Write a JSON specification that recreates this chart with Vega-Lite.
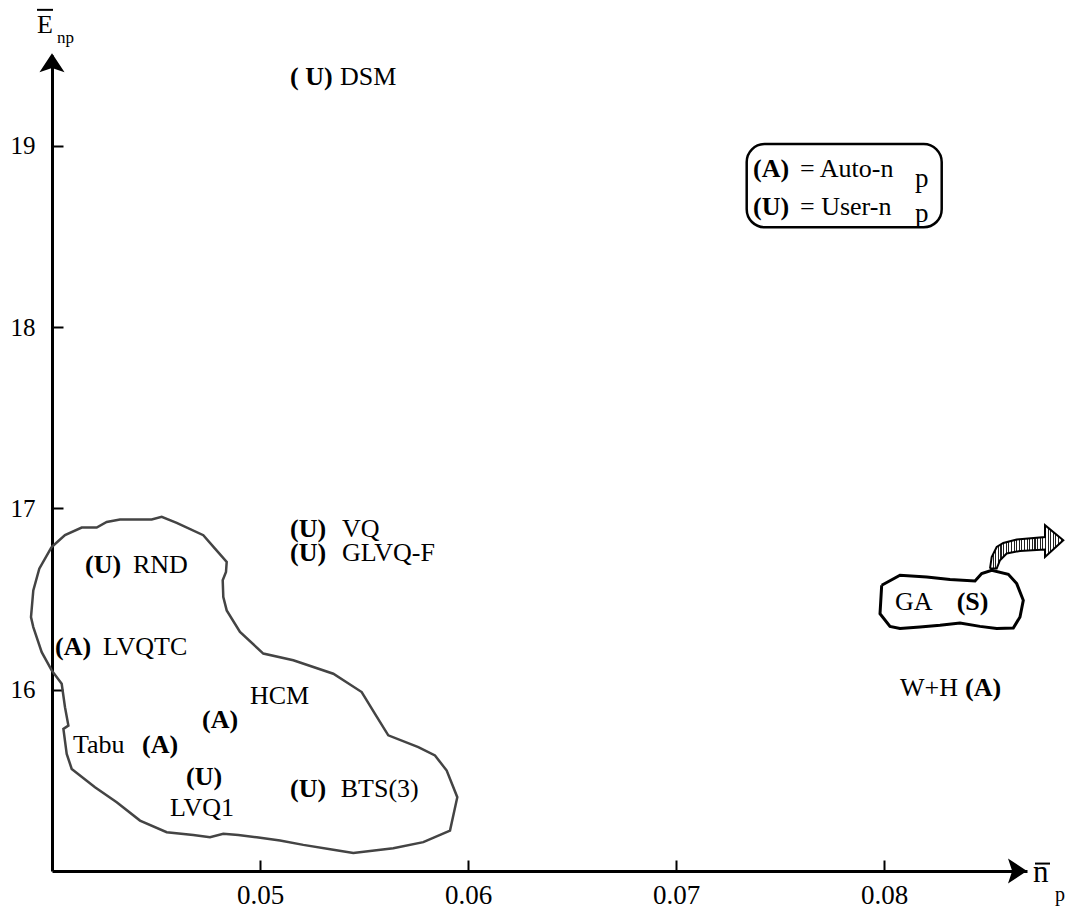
{
  "$schema": "https://vega.github.io/schema/vega-lite/v6.json",
  "autosize": "none",
  "width": 975,
  "height": 816,
  "padding": {"left": 52, "top": 55, "right": 38, "bottom": 38},
  "background": "white",
  "config": {
    "view": {"stroke": null},
    "font": "Liberation Serif",
    "text": {"font": "Liberation Serif", "color": "black"}
  },
  "datasets": {
    "blob": [
      {"i":0,"x":0.039986,"y":16.787},{"i":1,"x":0.040625,"y":16.852},{"i":2,"x":0.041428,"y":16.894},{"i":3,"x":0.042149,"y":16.894},{"i":4,"x":0.042630,"y":16.925},{"i":5,"x":0.043269,"y":16.938},{"i":6,"x":0.044793,"y":16.938},{"i":7,"x":0.045274,"y":16.953},{"i":8,"x":0.045995,"y":16.920},{"i":9,"x":0.047274,"y":16.852},{"i":10,"x":0.047837,"y":16.778},{"i":11,"x":0.048399,"y":16.704},{"i":12,"x":0.048365,"y":16.649},{"i":13,"x":0.048207,"y":16.603},{"i":14,"x":0.048236,"y":16.511},{"i":15,"x":0.048399,"y":16.437},{"i":16,"x":0.049038,"y":16.318},{"i":17,"x":0.050159,"y":16.199},{"i":18,"x":0.051601,"y":16.162},{"i":19,"x":0.053524,"y":16.088},{"i":20,"x":0.054889,"y":15.987},{"i":21,"x":0.055529,"y":15.867},{"i":22,"x":0.056168,"y":15.748},{"i":23,"x":0.057611,"y":15.683},{"i":24,"x":0.058413,"y":15.637},{"i":25,"x":0.058976,"y":15.554},{"i":26,"x":0.059486,"y":15.407},{"i":27,"x":0.059135,"y":15.223},{"i":28,"x":0.057851,"y":15.159},{"i":29,"x":0.056409,"y":15.126},{"i":30,"x":0.054486,"y":15.100},{"i":31,"x":0.053524,"y":15.117},{"i":32,"x":0.052082,"y":15.144},{"i":33,"x":0.050962,"y":15.168},{"i":34,"x":0.049841,"y":15.186},{"i":35,"x":0.048957,"y":15.199},{"i":36,"x":0.048236,"y":15.205},{"i":37,"x":0.047596,"y":15.186},{"i":38,"x":0.046793,"y":15.199},{"i":39,"x":0.045514,"y":15.214},{"i":40,"x":0.044231,"y":15.278},{"i":41,"x":0.043111,"y":15.379},{"i":42,"x":0.042067,"y":15.462},{"i":43,"x":0.040947,"y":15.563},{"i":44,"x":0.040707,"y":15.646},{"i":45,"x":0.040548,"y":15.784},{"i":46,"x":0.040788,"y":15.802},{"i":47,"x":0.040625,"y":15.903},{"i":48,"x":0.040466,"y":16.032},{"i":49,"x":0.039986,"y":16.106},{"i":50,"x":0.039505,"y":16.207},{"i":51,"x":0.039101,"y":16.345},{"i":52,"x":0.038990,"y":16.400},{"i":53,"x":0.039101,"y":16.547},{"i":54,"x":0.039389,"y":16.667},{"i":55,"x":0.039986,"y":16.787}
    ],
    "ga": [
      {"i":0,"x":0.079889,"y":16.576},{"i":1,"x":0.080769,"y":16.631},{"i":2,"x":0.082053,"y":16.621},{"i":3,"x":0.083173,"y":16.607},{"i":4,"x":0.084375,"y":16.599},{"i":5,"x":0.084697,"y":16.640},{"i":6,"x":0.085178,"y":16.658},{"i":7,"x":0.085976,"y":16.636},{"i":8,"x":0.086380,"y":16.585},{"i":9,"x":0.086697,"y":16.493},{"i":10,"x":0.086538,"y":16.401},{"i":11,"x":0.086216,"y":16.340},{"i":12,"x":0.085418,"y":16.337},{"i":13,"x":0.084615,"y":16.349},{"i":14,"x":0.083654,"y":16.368},{"i":15,"x":0.082692,"y":16.355},{"i":16,"x":0.081731,"y":16.345},{"i":17,"x":0.080769,"y":16.337},{"i":18,"x":0.080288,"y":16.349},{"i":19,"x":0.079808,"y":16.419},{"i":20,"x":0.079889,"y":16.576}
    ]
  },
  "layer": [
    {
      "data": {"name": "blob"},
      "mark": {"type": "line", "stroke": "#444444", "strokeWidth": 2.5, "clip": false},
      "encoding": {
        "x": {"field": "x", "type": "quantitative", "scale": {"domain": [0.04, 0.086875], "nice": false, "zero": false},
              "axis": {"values": [0.05, 0.06, 0.07, 0.08], "format": ".2f", "title": null, "grid": false,
                       "domainColor": "black", "domainWidth": 3, "tickColor": "black", "tickWidth": 2, "tickSize": -11,
                       "labelFont": "Liberation Serif", "labelFontSize": 27, "labelColor": "black", "labelPadding": 22, "labelBaseline": "top"}},
        "y": {"field": "y", "type": "quantitative", "scale": {"domain": [15, 19.5], "nice": false, "zero": false},
              "axis": {"values": [16, 17, 18, 19], "format": "d", "title": null, "grid": false,
                       "domainColor": "black", "domainWidth": 3, "tickColor": "black", "tickWidth": 2, "tickSize": -11,
                       "labelFont": "Liberation Serif", "labelFontSize": 25, "labelColor": "black", "labelPadding": 28}},
        "order": {"field": "i", "type": "quantitative"}
      }
    },
    {
      "data": {"name": "ga"},
      "mark": {"type": "line", "stroke": "black", "strokeWidth": 3, "clip": false},
      "encoding": {
        "x": {"field": "x", "type": "quantitative"}, "y": {"field": "y", "type": "quantitative"},
        "order": {"field": "i", "type": "quantitative"}
      }
    },
    {
      "data": {"values": [
        {"i":0,"x":0.085096,"y":16.668},{"i":1,"x":0.085178,"y":16.732},{"i":2,"x":0.085418,"y":16.787},{"i":3,"x":0.085736,"y":16.809},{"i":4,"x":0.086380,"y":16.828},{"i":5,"x":0.087740,"y":16.842},{"i":6,"x":0.087740,"y":16.907},{"i":7,"x":0.088620,"y":16.824},{"i":8,"x":0.087740,"y":16.732},{"i":9,"x":0.087740,"y":16.773},{"i":10,"x":0.086538,"y":16.765},{"i":11,"x":0.085899,"y":16.751},{"i":12,"x":0.085577,"y":16.714},{"i":13,"x":0.085418,"y":16.668},{"i":14,"x":0.085096,"y":16.668}
      ]},
      "mark": {"type": "line", "stroke": "black", "strokeWidth": 2, "clip": false,
               "fill": {"gradient": "linear", "x1": 0, "y1": 0, "x2": 1, "y2": 0, "stops": [
                 {"offset": 0, "color": "#222"}, {"offset": 0.0143, "color": "#222"}, {"offset": 0.0143, "color": "#fff"}, {"offset": 0.0357, "color": "#fff"},
                 {"offset": 0.0357, "color": "#222"}, {"offset": 0.05, "color": "#222"}, {"offset": 0.05, "color": "#fff"}, {"offset": 0.0714, "color": "#fff"},
                 {"offset": 0.0714, "color": "#222"}, {"offset": 0.0857, "color": "#222"}, {"offset": 0.0857, "color": "#fff"}, {"offset": 0.1071, "color": "#fff"},
                 {"offset": 0.1071, "color": "#222"}, {"offset": 0.1214, "color": "#222"}, {"offset": 0.1214, "color": "#fff"}, {"offset": 0.1429, "color": "#fff"},
                 {"offset": 0.1429, "color": "#222"}, {"offset": 0.1572, "color": "#222"}, {"offset": 0.1572, "color": "#fff"}, {"offset": 0.1786, "color": "#fff"},
                 {"offset": 0.1786, "color": "#222"}, {"offset": 0.1929, "color": "#222"}, {"offset": 0.1929, "color": "#fff"}, {"offset": 0.2143, "color": "#fff"},
                 {"offset": 0.2143, "color": "#222"}, {"offset": 0.2286, "color": "#222"}, {"offset": 0.2286, "color": "#fff"}, {"offset": 0.25, "color": "#fff"},
                 {"offset": 0.25, "color": "#222"}, {"offset": 0.2643, "color": "#222"}, {"offset": 0.2643, "color": "#fff"}, {"offset": 0.2857, "color": "#fff"},
                 {"offset": 0.2857, "color": "#222"}, {"offset": 0.3, "color": "#222"}, {"offset": 0.3, "color": "#fff"}, {"offset": 0.3214, "color": "#fff"},
                 {"offset": 0.3214, "color": "#222"}, {"offset": 0.3357, "color": "#222"}, {"offset": 0.3357, "color": "#fff"}, {"offset": 0.3571, "color": "#fff"},
                 {"offset": 0.3571, "color": "#222"}, {"offset": 0.3714, "color": "#222"}, {"offset": 0.3714, "color": "#fff"}, {"offset": 0.3929, "color": "#fff"},
                 {"offset": 0.3929, "color": "#222"}, {"offset": 0.4072, "color": "#222"}, {"offset": 0.4072, "color": "#fff"}, {"offset": 0.4286, "color": "#fff"},
                 {"offset": 0.4286, "color": "#222"}, {"offset": 0.4429, "color": "#222"}, {"offset": 0.4429, "color": "#fff"}, {"offset": 0.4643, "color": "#fff"},
                 {"offset": 0.4643, "color": "#222"}, {"offset": 0.4786, "color": "#222"}, {"offset": 0.4786, "color": "#fff"}, {"offset": 0.5, "color": "#fff"},
                 {"offset": 0.5, "color": "#222"}, {"offset": 0.5143, "color": "#222"}, {"offset": 0.5143, "color": "#fff"}, {"offset": 0.5357, "color": "#fff"},
                 {"offset": 0.5357, "color": "#222"}, {"offset": 0.55, "color": "#222"}, {"offset": 0.55, "color": "#fff"}, {"offset": 0.5714, "color": "#fff"},
                 {"offset": 0.5714, "color": "#222"}, {"offset": 0.5857, "color": "#222"}, {"offset": 0.5857, "color": "#fff"}, {"offset": 0.6071, "color": "#fff"},
                 {"offset": 0.6071, "color": "#222"}, {"offset": 0.6214, "color": "#222"}, {"offset": 0.6214, "color": "#fff"}, {"offset": 0.6429, "color": "#fff"},
                 {"offset": 0.6429, "color": "#222"}, {"offset": 0.6572, "color": "#222"}, {"offset": 0.6572, "color": "#fff"}, {"offset": 0.6786, "color": "#fff"},
                 {"offset": 0.6786, "color": "#222"}, {"offset": 0.6929, "color": "#222"}, {"offset": 0.6929, "color": "#fff"}, {"offset": 0.7143, "color": "#fff"},
                 {"offset": 0.7143, "color": "#222"}, {"offset": 0.7286, "color": "#222"}, {"offset": 0.7286, "color": "#fff"}, {"offset": 0.75, "color": "#fff"},
                 {"offset": 0.75, "color": "#222"}, {"offset": 0.7643, "color": "#222"}, {"offset": 0.7643, "color": "#fff"}, {"offset": 0.7857, "color": "#fff"},
                 {"offset": 0.7857, "color": "#222"}, {"offset": 0.8, "color": "#222"}, {"offset": 0.8, "color": "#fff"}, {"offset": 0.8214, "color": "#fff"},
                 {"offset": 0.8214, "color": "#222"}, {"offset": 0.8357, "color": "#222"}, {"offset": 0.8357, "color": "#fff"}, {"offset": 0.8571, "color": "#fff"},
                 {"offset": 0.8571, "color": "#222"}, {"offset": 0.8714, "color": "#222"}, {"offset": 0.8714, "color": "#fff"}, {"offset": 0.8929, "color": "#fff"},
                 {"offset": 0.8929, "color": "#222"}, {"offset": 0.9072, "color": "#222"}, {"offset": 0.9072, "color": "#fff"}, {"offset": 0.9286, "color": "#fff"},
                 {"offset": 0.9286, "color": "#222"}, {"offset": 0.9429, "color": "#222"}, {"offset": 0.9429, "color": "#fff"}, {"offset": 0.9643, "color": "#fff"},
                 {"offset": 0.9643, "color": "#222"}, {"offset": 0.9786, "color": "#222"}, {"offset": 0.9786, "color": "#fff"}, {"offset": 1, "color": "#fff"}
               ]}},
      "encoding": {
        "x": {"field": "x", "type": "quantitative"}, "y": {"field": "y", "type": "quantitative"},
        "order": {"field": "i", "type": "quantitative"}
      }
    },
    {
      "data": {"values": [
        {"x1": 0.073399, "x2": 0.082774, "y1": 19.009, "y2": 18.550}
      ]},
      "mark": {"type": "rect", "fill": null, "stroke": "black", "strokeWidth": 2.5, "cornerRadius": 18},
      "encoding": {
        "x": {"field": "x1", "type": "quantitative"}, "x2": {"field": "x2"},
        "y": {"field": "y1", "type": "quantitative"}, "y2": {"field": "y2"}
      }
    },
    {
      "data": {"values": [
        {"x": 0.086875, "y": 15, "dir": "right"},
        {"x": 0.04, "y": 19.51, "dir": "up"}
      ]},
      "mark": {"type": "point", "filled": true, "color": "black", "opacity": 1, "size": 1444, "clip": false},
      "encoding": {
        "x": {"field": "x", "type": "quantitative"}, "y": {"field": "y", "type": "quantitative"},
        "shape": {"field": "dir", "type": "nominal", "legend": null,
                  "scale": {"domain": ["right", "up"], "range": ["M0,0 L-1,-0.66 L-0.78,0 L-1,0.66 Z", "M0,0 L0.66,1 L0,0.78 L-0.66,1 Z"]}}
      }
    },
    {
      "data": {"values": [
        {"x": 0.039279, "x2": 0.040048, "y": 19.749},
        {"x": 0.087260, "x2": 0.087981, "y": 15.041}
      ]},
      "mark": {"type": "rule", "stroke": "black", "strokeWidth": 2, "clip": false},
      "encoding": {
        "x": {"field": "x", "type": "quantitative"}, "x2": {"field": "x2"},
        "y": {"field": "y", "type": "quantitative"}
      }
    },
    {
      "data": {"values": [
        {"t": "DSM", "x": 0.053846, "y": 19.379},
        {"t": "RND", "x": 0.043894, "y": 16.686},
        {"t": "LVQTC", "x": 0.042452, "y": 16.235},
        {"t": "HCM", "x": 0.049519, "y": 15.963},
        {"t": "Tabu", "x": 0.041010, "y": 15.693},
        {"t": "LVQ1", "x": 0.045673, "y": 15.345},
        {"t": "BTS(3)", "x": 0.053880, "y": 15.450},
        {"t": "VQ", "x": 0.053942, "y": 16.887},
        {"t": "GLVQ-F", "x": 0.053942, "y": 16.755},
        {"t": "GA", "x": 0.080529, "y": 16.483},
        {"t": "W+H", "x": 0.080769, "y": 16.007}
      ]},
      "mark": {"type": "text", "align": "left", "baseline": "middle", "fontSize": 26, "font": "Liberation Serif", "clip": false},
      "encoding": {
        "x": {"field": "x", "type": "quantitative"}, "y": {"field": "y", "type": "quantitative"},
        "text": {"field": "t"}
      }
    },
    {
      "data": {"values": [
        {"t": "( U)", "x": 0.051442, "y": 19.379},
        {"t": "(U)", "x": 0.041587, "y": 16.686},
        {"t": "(A)", "x": 0.040144, "y": 16.235},
        {"t": "(A)", "x": 0.047212, "y": 15.831},
        {"t": "(A)", "x": 0.044327, "y": 15.693},
        {"t": "(U)", "x": 0.046442, "y": 15.518},
        {"t": "(U)", "x": 0.051442, "y": 15.450},
        {"t": "(U)", "x": 0.051442, "y": 16.887},
        {"t": "(U)", "x": 0.051442, "y": 16.755},
        {"t": "(S)", "x": 0.083495, "y": 16.483},
        {"t": "(A)", "x": 0.083894, "y": 16.007}
      ]},
      "mark": {"type": "text", "align": "left", "baseline": "middle", "fontSize": 26, "fontWeight": "bold", "font": "Liberation Serif", "clip": false},
      "encoding": {
        "x": {"field": "x", "type": "quantitative"}, "y": {"field": "y", "type": "quantitative"},
        "text": {"field": "t"}
      }
    },
    {
      "data": {"values": [
        {"t": "(A)", "x": 0.073702, "y": 18.829},
        {"t": "(U)", "x": 0.073702, "y": 18.618}
      ]},
      "mark": {"type": "text", "align": "left", "baseline": "alphabetic", "fontSize": 26, "fontWeight": "bold", "font": "Liberation Serif", "clip": false},
      "encoding": {
        "x": {"field": "x", "type": "quantitative"}, "y": {"field": "y", "type": "quantitative"},
        "text": {"field": "t"}
      }
    },
    {
      "data": {"values": [
        {"t": "= Auto-n", "x": 0.075962, "y": 18.829, "s": 26},
        {"t": "p", "x": 0.081490, "y": 18.774, "s": 27},
        {"t": "= User-n", "x": 0.075962, "y": 18.618, "s": 26},
        {"t": "p", "x": 0.081490, "y": 18.579, "s": 27},
        {"t": "E", "x": 0.039279, "y": 19.622, "s": 26},
        {"t": "np", "x": 0.040240, "y": 19.567, "s": 17},
        {"t": "n", "x": 0.087163, "y": 14.937, "s": 31},
        {"t": "p", "x": 0.088221, "y": 14.832, "s": 20}
      ]},
      "mark": {"type": "text", "align": "left", "baseline": "alphabetic", "font": "Liberation Serif", "clip": false},
      "encoding": {
        "x": {"field": "x", "type": "quantitative"}, "y": {"field": "y", "type": "quantitative"},
        "text": {"field": "t"},
        "size": {"field": "s", "type": "quantitative", "scale": null}
      }
    }
  ]
}
